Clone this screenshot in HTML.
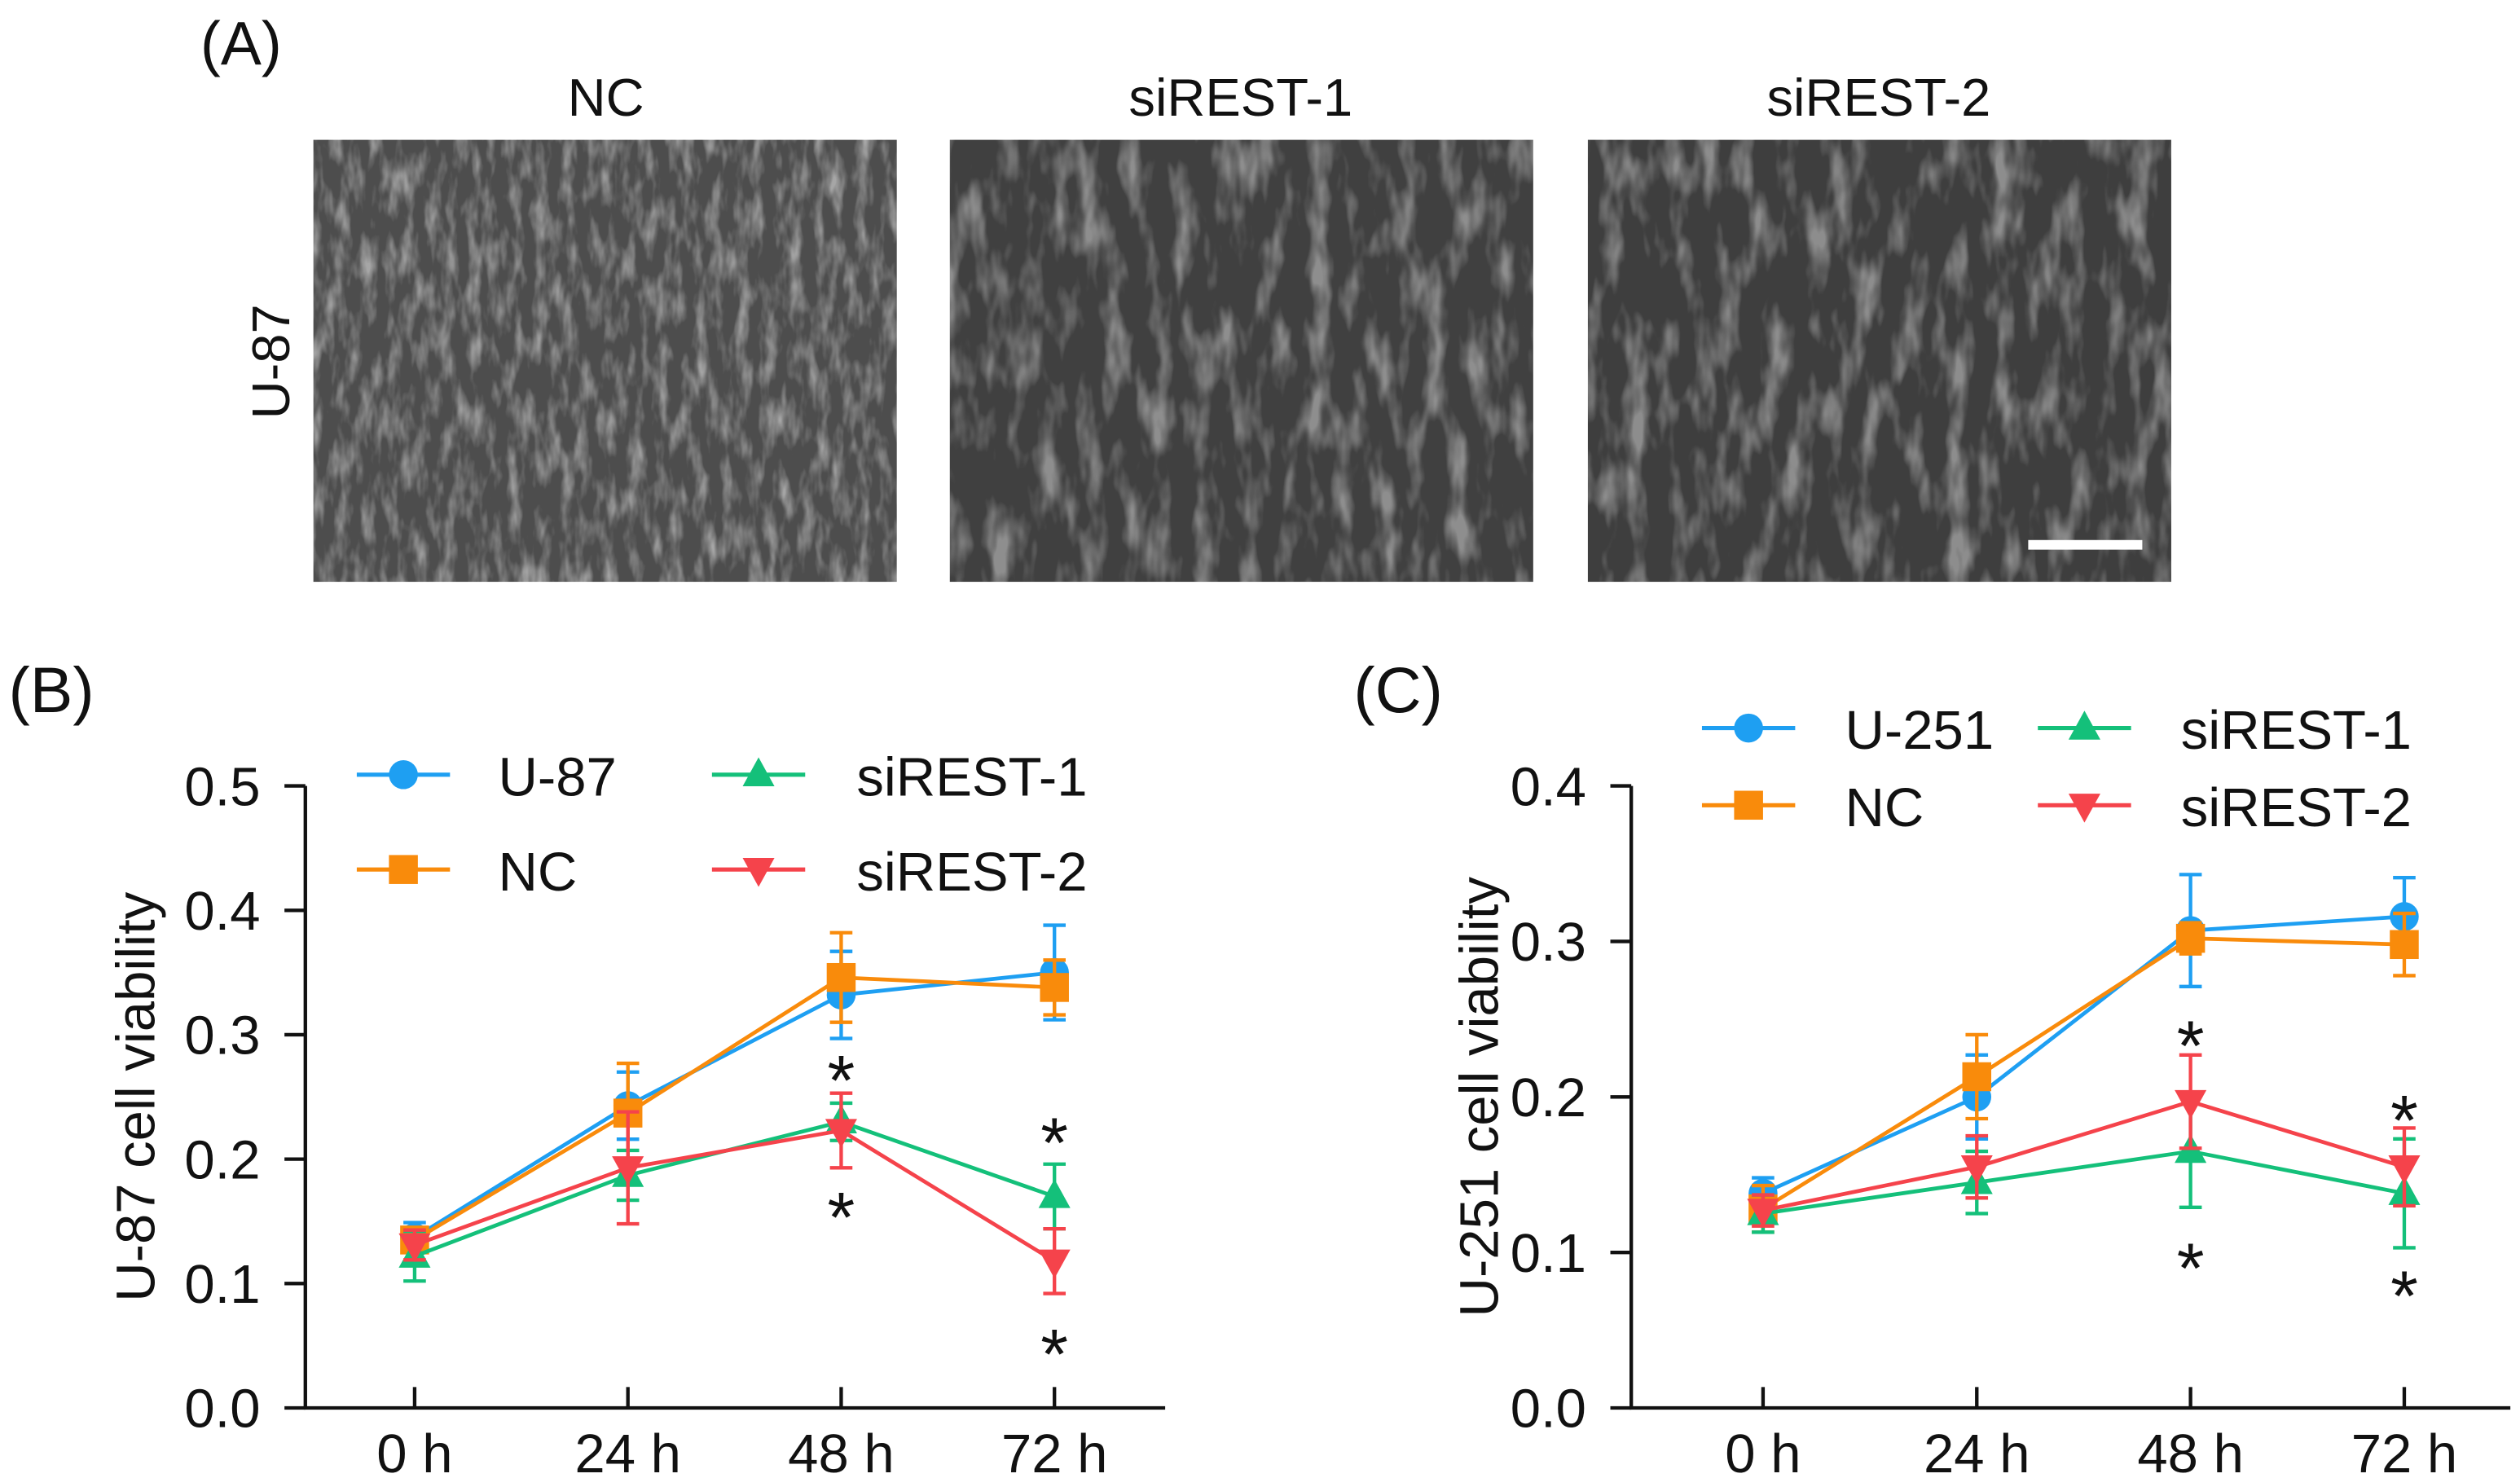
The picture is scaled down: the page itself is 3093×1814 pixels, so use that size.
<!DOCTYPE html>
<html><head><meta charset="utf-8"><style>
html,body{margin:0;padding:0;background:#fff;}
svg{display:block;}
text{font-family:"Liberation Sans",sans-serif;fill:#111;}
</style></head><body>
<svg id="fig" width="3093" height="1814" viewBox="0 0 1568 919.6" preserveAspectRatio="none" xmlns="http://www.w3.org/2000/svg">
<defs>
<filter id="tex" x="0" y="0" width="100%" height="100%">
<feTurbulence type="fractalNoise" baseFrequency="0.12 0.04" numOctaves="3" seed="4"/>
<feColorMatrix type="matrix" values="0 0 0 0 1  0 0 0 0 1  0 0 0 0 1  0 0 0 -2.2 1.25"/>
</filter>
<filter id="tex2" x="0" y="0" width="100%" height="100%">
<feTurbulence type="fractalNoise" baseFrequency="0.07 0.025" numOctaves="3" seed="9"/>
<feColorMatrix type="matrix" values="0 0 0 0 0.85  0 0 0 0 0.85  0 0 0 0 0.85  0 0 0 -3 1.6"/>
</filter>
</defs>
<g>
<text x="150" y="40" font-size="38" text-anchor="middle">(A)</text>
<text x="377" y="72" font-size="33" text-anchor="middle">NC</text>
<text x="772" y="72" font-size="33" text-anchor="middle">siREST-1</text>
<text x="1169" y="72" font-size="33" text-anchor="middle">siREST-2</text>
<text transform="translate(180,225) rotate(-90)" font-size="33" text-anchor="middle">U-87</text>
<g>
<rect x="195" y="87" width="363" height="275" fill="#4d4d4d"/>
<rect x="195" y="87" width="363" height="275" filter="url(#tex)" opacity="0.5"/>
</g>
<g>
<rect x="591" y="87" width="363" height="275" fill="#404040"/>
<rect x="591" y="87" width="363" height="275" filter="url(#tex2)" opacity="0.45"/>
</g>
<g>
<rect x="988" y="87" width="363" height="275" fill="#3e3e3e"/>
<rect x="988" y="87" width="363" height="275" filter="url(#tex2)" opacity="0.45" transform="translate(2339,0) scale(-1,1)"/>
</g>
<rect x="1262" y="336" width="71" height="6" fill="#fff"/>
</g>
<g id="pb"></g>
<g id="pc"></g>
</svg>
<script>
const categories = ["0 h","24 h","48 h","72 h"];
const bSeriesNames = ["U-87","NC","siREST-1","siREST-2"];
const bU87 = [0.137,0.243,0.332,0.350];
const bU87Err = [0.012,0.027,0.035,0.038];
const bNC = [0.135,0.237,0.346,0.338];
const bNCErr = [0.010,0.040,0.036,0.022];
const bSi1 = [0.122,0.187,0.230,0.170];
const bSi1Err = [0.020,0.020,0.015,0.026];
const bSi2 = [0.131,0.193,0.223,0.118];
const bSi2Err = [0.012,0.045,0.030,0.026];
const bTicks = ["0.0","0.1","0.2","0.3","0.4","0.5"];
const bStars = [[2,0.272],[2,0.162],[3,0.222],[3,0.052]];
const cSeriesNames = ["U-251","NC","siREST-1","siREST-2"];
const cU251 = [0.138,0.200,0.307,0.316];
const cU251Err = [0.010,0.027,0.036,0.025];
const cNC = [0.128,0.213,0.302,0.298];
const cNCErr = [0.015,0.027,0.010,0.020];
const cSi1 = [0.125,0.145,0.165,0.138];
const cSi1Err = [0.012,0.020,0.036,0.035];
const cSi2 = [0.127,0.155,0.197,0.155];
const cSi2Err = [0.010,0.020,0.030,0.025];
const cTicks = ["0.0","0.1","0.2","0.3","0.4"];
const cStars = [[2,0.240],[2,0.097],[3,0.192],[3,0.079]];

const NS="http://www.w3.org/2000/svg";
const colors=["#1E9FF2","#F98B0B","#14C07A","#F5434B"];
const markers=["circle","square","up","down"];
function mk(tag,attrs,parent){const e=document.createElementNS(NS,tag);for(const k in attrs)e.setAttribute(k,attrs[k]);parent.appendChild(e);return e;}
function marker(g,type,x,y,c,s){
  if(type==="circle")return mk("circle",{cx:x,cy:y,r:s,fill:c},g);
  if(type==="square")return mk("rect",{x:x-s,y:y-s,width:2*s,height:2*s,fill:c},g);
  if(type==="up")return mk("polygon",{points:`${x},${y-s*1.2} ${x-s*1.1},${y+s*0.8} ${x+s*1.1},${y+s*0.8}`,fill:c},g);
  return mk("polygon",{points:`${x},${y+s*1.2} ${x-s*1.1},${y-s*0.8} ${x+s*1.1},${y-s*0.8}`,fill:c},g);
}
function panel(gid,cfg){
  const g=document.getElementById(gid);
  const x=i=>cfg.x0+i*cfg.dx;
  const y=v=>cfg.yBase-(v/cfg.yMax)*(cfg.yBase-cfg.yTop);
  const lab=mk("text",{x:cfg.labX,y:cfg.labY,"font-size":40,"text-anchor":"middle"},g);lab.textContent=cfg.label;
  
  
  const ax=mk("g",{},g);
  
  
  mk("line",{x1:cfg.ax,y1:cfg.yTop,x2:cfg.ax,y2:cfg.yBase+1,stroke:"#111","stroke-width":2.2},ax);
  cfg.ticks.forEach((t,i)=>{const v=i*0.1;const yy=y(v);
    mk("line",{x1:cfg.ax-13,y1:yy,x2:cfg.ax,y2:yy,stroke:"#111","stroke-width":2.2},ax);
    const tx=mk("text",{x:cfg.ax-28,y:yy+12,"font-size":34,"text-anchor":"end"},ax);tx.textContent=t;
    
    
  });
  const yt=mk("text",{transform:`translate(${cfg.ytX},${(cfg.yTop+cfg.yBase)/2}) rotate(-90)`,"font-size":34,"text-anchor":"middle"},g);
  yt.textContent=cfg.yTitle;
  
  
  const xa=mk("g",{},g);
  
  
  mk("line",{x1:cfg.ax-1,y1:cfg.yBase,x2:cfg.xEnd,y2:cfg.yBase,stroke:"#111","stroke-width":2.2},xa);
  categories.forEach((c,i)=>{
    mk("line",{x1:x(i),y1:cfg.yBase-13,x2:x(i),y2:cfg.yBase,stroke:"#111","stroke-width":2.2},xa);
    const tx=mk("text",{x:x(i),y:cfg.yBase+40,"font-size":34,"text-anchor":"middle"},xa);tx.textContent=c;
    
    
  });
  cfg.series.forEach((s,si)=>{
    const sg=mk("g",{},g);
    
    
    const c=colors[si];
    s.vals.forEach((v,i)=>{
      const e=s.err[i];
      mk("line",{x1:x(i),y1:y(v+e),x2:x(i),y2:y(v-e),stroke:c,"stroke-width":2.2},sg);
      mk("line",{x1:x(i)-7,y1:y(v+e),x2:x(i)+7,y2:y(v+e),stroke:c,"stroke-width":2.2},sg);
      mk("line",{x1:x(i)-7,y1:y(v-e),x2:x(i)+7,y2:y(v-e),stroke:c,"stroke-width":2.2},sg);
    });
    mk("polyline",{points:s.vals.map((v,i)=>x(i)+","+y(v)).join(" "),fill:"none",stroke:c,"stroke-width":2.4},sg);
    s.vals.forEach((v,i)=>{const m=marker(sg,markers[si],x(i),y(v),c,9);
      
      });
  });
  cfg.stars.forEach(st=>{const t=mk("text",{x:x(st[0]),y:y(st[1])+22,"font-size":44,"text-anchor":"middle"},g);t.textContent="*";
    
    });
  cfg.legend.forEach((L,si)=>{
    const lg=mk("g",{},g);
    
    
    mk("line",{x1:L[0],y1:L[1],x2:L[0]+58,y2:L[1],stroke:colors[si],"stroke-width":2.6},lg);
    marker(lg,markers[si],L[0]+29,L[1],colors[si],9);
    const t=mk("text",{x:L[2],y:L[1]+13,"font-size":34},lg);t.textContent=cfg.names[si];
  });
}
panel("pb",{label:"(B)",labelName:"panel-b-label",labX:32,labY:443,ax:190,yTop:489,yBase:876,yMax:0.5,x0:258,dx:132.7,xEnd:725,ticks:bTicks,ytX:96,yTitle:"U-87 cell viability",names:bSeriesNames,
 series:[{vals:bU87,err:bU87Err},{vals:bNC,err:bNCErr},{vals:bSi1,err:bSi1Err},{vals:bSi2,err:bSi2Err}],stars:bStars,
 legend:[[222,482,310],[222,541,310],[443,482,533],[443,541,533]]});
panel("pc",{label:"(C)",labelName:"panel-c-label",labX:870,labY:443,ax:1015,yTop:489,yBase:876,yMax:0.4,x0:1097,dx:133,xEnd:1562,ticks:cTicks,ytX:932,yTitle:"U-251 cell viability",names:cSeriesNames,
 series:[{vals:cU251,err:cU251Err},{vals:cNC,err:cNCErr},{vals:cSi1,err:cSi1Err},{vals:cSi2,err:cSi2Err}],stars:cStars,
 legend:[[1059,453,1148],[1059,501,1148],[1268,453,1357],[1268,501,1357]]});
</script>
</body></html>
